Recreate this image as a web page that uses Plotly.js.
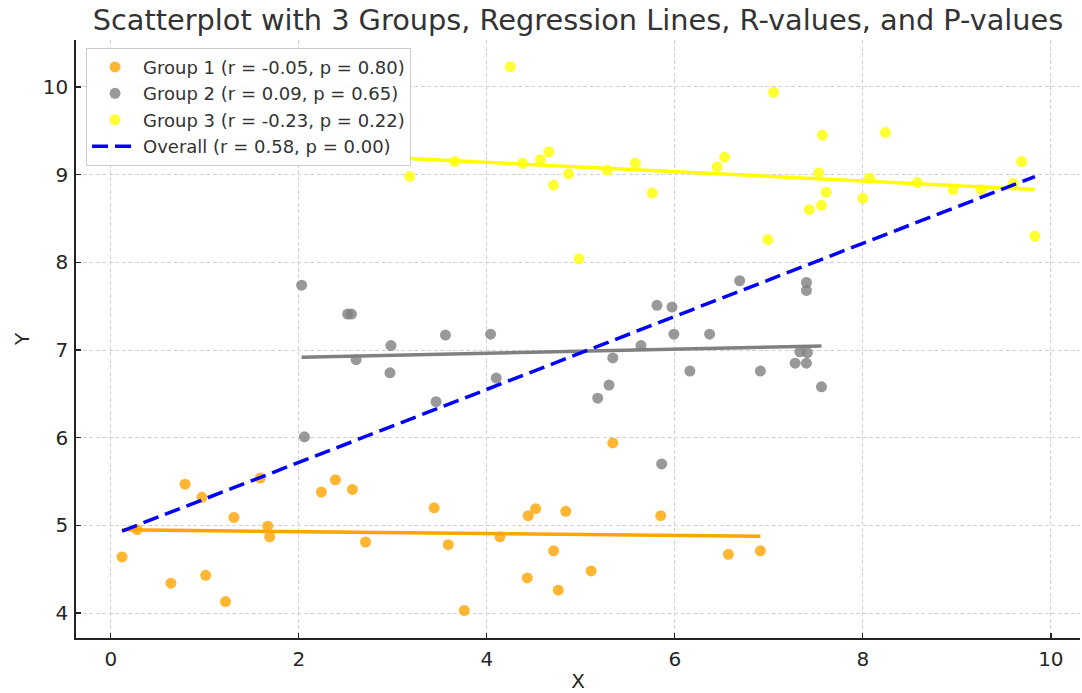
<!DOCTYPE html>
<html>
<head>
<meta charset="utf-8">
<script src="https://cdn.plot.ly/plotly-3.0.1.min.js"></script>
<style>html,body{margin:0;padding:0;background:#fff;}#chart{width:1082px;height:693px;}</style>
</head>
<body>
<div id="chart"></div>
<script>
// ---- Data ----
const g1x = [0.12,0.28,0.64,0.79,0.97,1.01,1.22,1.31,1.59,1.67,1.69,2.24,2.39,2.57,2.71,3.44,3.59,3.76,4.14,4.43,4.44,4.52,4.71,4.76,4.84,5.11,5.34,5.85,6.57,6.91];
const g1y = [4.64,4.95,4.34,5.47,5.32,4.43,4.13,5.09,5.54,4.99,4.87,5.38,5.52,5.41,4.81,5.20,4.78,4.03,4.87,4.40,5.11,5.19,4.71,4.26,5.16,4.48,5.94,5.11,4.67,4.71];

const g2x = [2.03,2.52,2.56,2.61,2.98,2.97,3.56,3.46,4.04,4.10,2.06,5.18,5.30,5.34,5.64,5.81,5.97,5.99,6.16,6.37,6.69,6.91,7.28,7.33,7.40,7.40,7.41,7.40,7.56,5.86];
const g2y = [7.74,7.41,7.41,6.89,7.05,6.74,7.17,6.41,7.18,6.68,6.01,6.45,6.60,6.91,7.05,7.51,7.49,7.18,6.76,7.18,7.79,6.76,6.85,6.98,7.77,7.68,6.97,6.85,6.58,5.70];

const g3x = [4.25,3.18,3.66,4.38,4.57,4.66,4.71,4.87,4.98,5.28,5.58,5.76,6.45,6.53,7.05,6.99,7.57,7.53,7.61,7.56,7.43,8.24,8.07,8.00,8.58,8.96,9.26,9.60,9.69,9.83];
const g3y = [10.23,8.98,9.15,9.13,9.17,9.26,8.88,9.01,8.04,9.05,9.13,8.79,9.09,9.20,9.94,8.26,9.45,9.02,8.80,8.65,8.60,9.48,8.96,8.73,8.91,8.83,8.83,8.90,9.15,8.30];

const groupNames = ["Group 1 (r = -0.05, p = 0.80)","Group 2 (r = 0.09, p = 0.65)","Group 3 (r = -0.23, p = 0.22)"];
const overallName = "Overall (r = 0.58, p = 0.00)";
const titleText = "Scatterplot with 3 Groups, Regression Lines, R-values, and P-values";
const xTicks = [0,2,4,6,8,10];
const yTicks = [4,5,6,7,8,9,10];

// ---- Styles ----
const pointColors = ["rgba(255,165,0,0.8)","rgba(128,128,128,0.8)","rgba(255,255,0,0.8)"];
const lineColors = ["#FFA500","#808080","#FFFF00"];

function fit(xs, ys){
  const n = xs.length;
  const mx = xs.reduce((a,b)=>a+b,0)/n, my = ys.reduce((a,b)=>a+b,0)/n;
  let sxy=0,sxx=0;
  for(let i=0;i<n;i++){sxy+=(xs[i]-mx)*(ys[i]-my);sxx+=(xs[i]-mx)**2;}
  const b = sxy/sxx, a = my-b*mx;
  const x0 = Math.min(...xs), x1 = Math.max(...xs);
  return {x:[x0,x1], y:[a+b*x0, a+b*x1]};
}

const groups = [[g1x,g1y],[g2x,g2y],[g3x,g3y]];
const traces = [];
groups.forEach((g,i)=>{
  traces.push({x:g[0], y:g[1], mode:'markers', type:'scatter', name:groupNames[i],
    marker:{color:pointColors[i], size:11, line:{width:0}}, cliponaxis:false});
});
groups.forEach((g,i)=>{
  const f = fit(g[0], g[1]);
  traces.push({x:f.x, y:f.y, mode:'lines', type:'scatter', showlegend:false,
    line:{color:lineColors[i], width:3.5}});
});
const allx = g1x.concat(g2x, g3x), ally = g1y.concat(g2y, g3y);
const fo = fit(allx, ally);
traces.push({x:fo.x, y:fo.y, mode:'lines', type:'scatter', name:overallName,
  line:{color:'#0000FF', width:3.5, dash:'16px,7px'}});

const axisCommon = {
  showline:true, linecolor:'#222', linewidth:1.7, mirror:false,
  ticks:'inside', ticklen:5, tickwidth:1.3, tickcolor:'#222',
  showgrid:true, gridcolor:'#d3d3d3', gridwidth:1, griddash:'4px,2.5px',
  zeroline:false, tickfont:{family:'DejaVu Sans', size:20, color:'#262626'}
};

const layout = {
  width:1082, height:693,
  margin:{l:76, r:2, t:40, b:55},
  paper_bgcolor:'#fff', plot_bgcolor:'#fff',
  font:{family:'DejaVu Sans', color:'#333'},
  title:{text:titleText, font:{family:'DejaVu Sans', size:28.8, color:'#333'},
    x:0.5, xanchor:'center', xref:'paper', y:0.971, yanchor:'middle', yref:'container'},
  xaxis:Object.assign({}, axisCommon, {range:[-0.37,10.31], tickvals:xTicks, ticklabelstandoff:2,
    title:{text:'X', font:{family:'DejaVu Sans', size:20, color:'#262626'}, standoff:8}}),
  yaxis:Object.assign({}, axisCommon, {range:[3.715,10.536], tickvals:yTicks, ticklabelstandoff:2,
    title:{text:'Y', font:{family:'DejaVu Sans', size:20, color:'#262626'}, standoff:8}}),
  legend:{x:0.01, y:0.987, xanchor:'left', yanchor:'top',
    bgcolor:'rgba(255,255,255,0.85)', bordercolor:'#cccccc', borderwidth:1,
    font:{family:'DejaVu Sans', size:18, color:'#333'}, tracegroupgap:0, itemwidth:46},
  showlegend:true
};

Plotly.newPlot('chart', traces, layout, {displayModeBar:false, staticPlot:true});
</script>
</body>
</html>
